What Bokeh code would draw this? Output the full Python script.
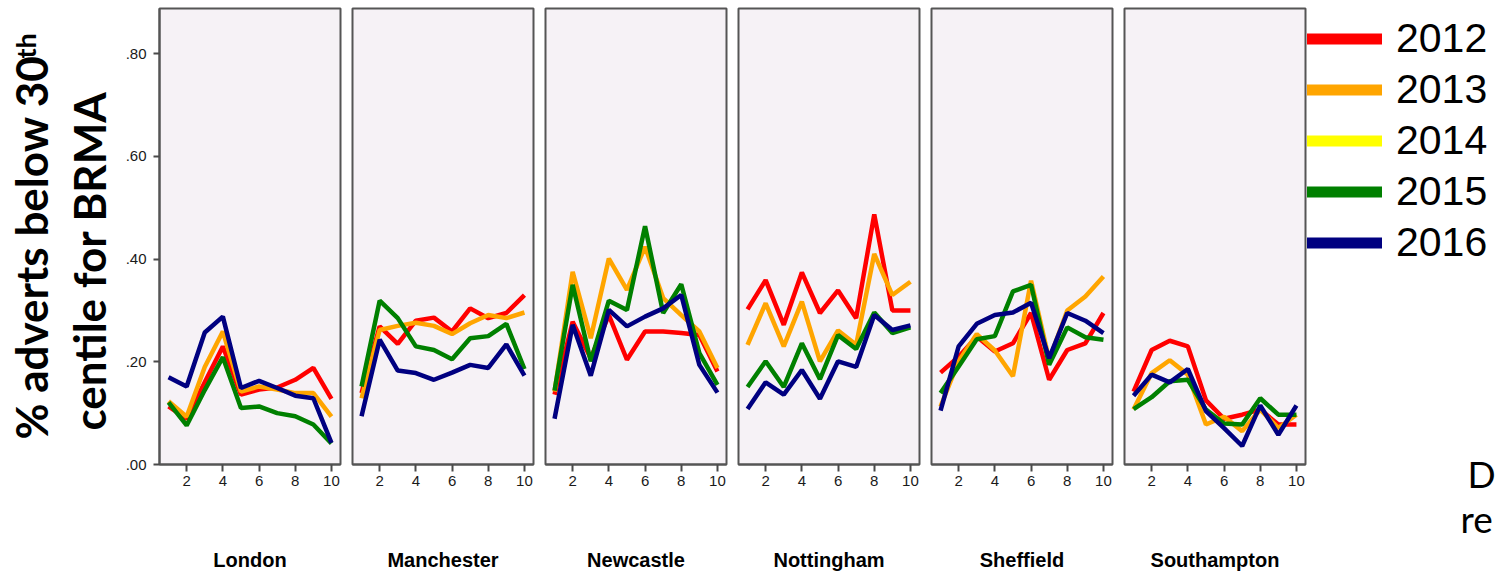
import math

from bokeh.embed import file_html
from bokeh.layouts import row
from bokeh.models import FixedTicker, Label, Legend, LegendItem, Range1d
from bokeh.plotting import figure
from bokeh.resources import INLINE

# ---------------------------------------------------------------- data
months = [1, 2, 3, 4, 5, 6, 7, 8, 9, 10]
years = ["2012", "2013", "2014", "2015", "2016"]
year_colors = ["#FF0000", "#FFA500", "#FFFF00", "#008000", "#000080"]
cities = ["London", "Manchester", "Newcastle", "Nottingham", "Sheffield", "Southampton"]

x_ticks = [2, 4, 6, 8, 10]
y_ticks = [0.0, 0.2, 0.4, 0.6, 0.8]
y_tick_labels = [".00", ".20", ".40", ".60", ".80"]

# share of adverts below the 30th centile, by month index (2014 has no series)
london = {
    "2012": [0.113, 0.089, 0.160, 0.230, 0.136, 0.146, 0.150, 0.165, 0.188, 0.128],
    "2013": [0.123, 0.093, 0.190, 0.259, 0.142, 0.152, 0.146, 0.139, 0.139, 0.093],
    "2015": [0.121, 0.076, 0.145, 0.209, 0.110, 0.113, 0.100, 0.094, 0.078, 0.041],
    "2016": [0.170, 0.152, 0.257, 0.288, 0.149, 0.163, 0.149, 0.134, 0.129, 0.042],
}
manchester = {
    "2012": [0.139, 0.269, 0.235, 0.280, 0.286, 0.259, 0.304, 0.285, 0.295, 0.330],
    "2013": [0.129, 0.262, 0.270, 0.276, 0.270, 0.254, 0.275, 0.291, 0.285, 0.296],
    "2015": [0.152, 0.319, 0.285, 0.230, 0.223, 0.205, 0.246, 0.250, 0.274, 0.186],
    "2016": [0.094, 0.243, 0.183, 0.178, 0.165, 0.179, 0.194, 0.188, 0.234, 0.173],
}
newcastle = {
    "2012": [0.136, 0.278, 0.207, 0.291, 0.204, 0.259, 0.259, 0.256, 0.252, 0.181],
    "2013": [0.142, 0.375, 0.246, 0.401, 0.340, 0.424, 0.324, 0.291, 0.259, 0.188],
    "2015": [0.144, 0.350, 0.201, 0.319, 0.301, 0.464, 0.295, 0.351, 0.217, 0.155],
    "2016": [0.089, 0.272, 0.173, 0.301, 0.269, 0.288, 0.304, 0.330, 0.194, 0.140],
}
nottingham = {
    "2012": [0.302, 0.359, 0.272, 0.374, 0.295, 0.339, 0.285, 0.487, 0.300, 0.300],
    "2013": [0.233, 0.314, 0.230, 0.317, 0.201, 0.261, 0.233, 0.410, 0.330, 0.356],
    "2015": [0.151, 0.201, 0.151, 0.236, 0.166, 0.252, 0.225, 0.296, 0.256, 0.267],
    "2016": [0.108, 0.160, 0.136, 0.184, 0.128, 0.201, 0.190, 0.291, 0.262, 0.271],
}
sheffield = {
    "2012": [0.179, 0.210, 0.249, 0.220, 0.236, 0.295, 0.165, 0.223, 0.236, 0.295],
    "2013": [0.113, 0.201, 0.254, 0.222, 0.172, 0.358, 0.204, 0.300, 0.327, 0.366],
    "2015": [0.139, 0.191, 0.244, 0.250, 0.337, 0.350, 0.194, 0.267, 0.248, 0.243],
    "2016": [0.105, 0.230, 0.274, 0.291, 0.296, 0.315, 0.207, 0.295, 0.280, 0.256],
}
southampton = {
    "2012": [0.142, 0.223, 0.241, 0.230, 0.125, 0.089, 0.097, 0.107, 0.078, 0.078],
    "2013": [0.107, 0.178, 0.203, 0.175, 0.078, 0.093, 0.065, 0.107, 0.071, 0.097],
    "2015": [0.108, 0.131, 0.162, 0.165, 0.107, 0.080, 0.078, 0.129, 0.097, 0.097],
    "2016": [0.134, 0.175, 0.160, 0.186, 0.104, 0.071, 0.036, 0.115, 0.058, 0.115],
}
city_series = [london, manchester, newcastle, nottingham, sheffield, southampton]

# ---------------------------------------------------------------- layout
HEIGHT = 573
FRAME_W, FRAME_H = 181, 456
TOP, BOTTOM = 8, 109
GAP = 6
TITLE_W = 114
AXIS_W = 45
LAST_RIGHT = 2
LEGEND_W = 1496 - TITLE_W - (AXIS_W + FRAME_W + GAP) - 4 * (2 * GAP + FRAME_W) - (GAP + FRAME_W + LAST_RIGHT)
PANEL_BG = "#F6F2F6"
EDGE = "#555555"
TICK_FONT = "Liberation Sans"


def blank_canvas(width):
    """A figure whose frame is the whole canvas, used for free-standing text."""
    c = figure(
        width=width, height=HEIGHT,
        x_range=Range1d(0, width), y_range=Range1d(0, HEIGHT),
        x_axis_location=None, y_axis_location=None,
        min_border_left=0, min_border_right=0, min_border_top=0, min_border_bottom=0,
        frame_align=False,
        output_backend="svg", toolbar_location=None,
    )
    c.outline_line_color = None
    c.grid.visible = False
    c.background_fill_color = "white"
    c.border_fill_color = "white"
    return c


# ---------------------------------------------------------------- y title
# labels are anchored about half a font size off from where their baseline falls
title_canvas = blank_canvas(TITLE_W)
title_style = dict(
    x_units="screen", y_units="screen", angle=math.pi / 2,
    text_font="Lato", text_font_style="bold",
    text_align="left", text_baseline="alphabetic", text_color="black",
)
title_canvas.add_layout(Label(x=52 - 22, y=HEIGHT - 439, text="% adverts below 30",
                              text_font_size="44px", **title_style))
title_canvas.add_layout(Label(x=38 - 13, y=HEIGHT - 58, text="th",
                              text_font_size="27px", **title_style))
title_canvas.add_layout(Label(x=110 - 22, y=HEIGHT - 430, text="centile for BRMA",
                              text_font_size="44px", **title_style))

# ---------------------------------------------------------------- panels
panels = []
for i, (city, series) in enumerate(zip(cities, city_series)):
    first = i == 0
    last = i == len(cities) - 1
    left = AXIS_W if first else GAP
    right = LAST_RIGHT if last else GAP
    p = figure(
        width=left + FRAME_W + right,
        height=TOP + FRAME_H + BOTTOM,
        x_range=Range1d(0.5, 10.5),
        y_range=Range1d(0.0, 0.888),
        y_axis_location="left" if first else None,
        min_border_left=left,
        min_border_right=right,
        min_border_top=TOP,
        min_border_bottom=BOTTOM,
        output_backend="svg",
        toolbar_location=None,
    )
    p.background_fill_color = PANEL_BG
    p.border_fill_color = "white"
    p.outline_line_color = EDGE
    p.outline_line_width = 2
    p.grid.visible = False

    xa = p.xaxis[0]
    xa.ticker = FixedTicker(ticks=x_ticks, minor_ticks=[])
    xa.major_tick_in = 0
    xa.major_tick_out = 7
    xa.major_tick_line_width = 2
    xa.major_tick_line_color = "#4a4a4a"
    xa.minor_tick_out = 0
    xa.axis_line_color = EDGE
    xa.axis_line_width = 2
    xa.major_label_standoff = 4
    xa.major_label_text_font = TICK_FONT
    xa.major_label_text_font_size = "15px"
    xa.major_label_text_color = "#1a1a1a"
    xa.axis_label = city
    xa.axis_label_standoff = 60
    xa.axis_label_text_font = TICK_FONT
    xa.axis_label_text_font_size = "20px"
    xa.axis_label_text_font_style = "bold"
    xa.axis_label_text_color = "black"

    if first:
        ya = p.yaxis[0]
        ya.ticker = FixedTicker(ticks=y_ticks, minor_ticks=[])
        ya.major_label_overrides = {t: lab for t, lab in zip(y_ticks, y_tick_labels)}
        ya.major_tick_in = 0
        ya.major_tick_out = 6
        ya.major_tick_line_width = 2
        ya.major_tick_line_color = "#4a4a4a"
        ya.minor_tick_out = 0
        ya.axis_line_color = EDGE
        ya.axis_line_width = 2
        ya.major_label_standoff = 7
        ya.major_label_text_font = TICK_FONT
        ya.major_label_text_font_size = "15px"
        ya.major_label_text_color = "#1a1a1a"

    for year, color in zip(years, year_colors):
        if year in series:
            p.line(months, series[year], line_color=color, line_width=4.5)

    panels.append(p)

# ---------------------------------------------------------------- legend
legend_canvas = blank_canvas(LEGEND_W)
legend_items = []
for year, color in zip(years, year_colors):
    # legend-only swatch renderer; its points sit outside the visible range
    swatch = legend_canvas.line(x=[-20, -10], y=[-20, -20], line_color=color, line_width=11)
    legend_items.append(LegendItem(label=year, renderers=[swatch]))

legend = Legend(
    items=legend_items,
    location=(-2, 307),
    orientation="vertical",
    padding=6,
    spacing=4,
    margin=0,
    glyph_width=77,
    glyph_height=47,
    label_height=47,
    label_standoff=14,
    label_text_font=TICK_FONT,
    label_text_font_size="41px",
    label_text_color="black",
    background_fill_color="white",
    background_fill_alpha=1.0,
    border_line_color=None,
)
legend_canvas.add_layout(legend)

note_style = dict(x_units="screen", y_units="screen", text_font="Lato",
                  text_font_size="37px", text_align="left",
                  text_baseline="alphabetic", text_color="black")
canvas_left = 1496 - LEGEND_W
legend_canvas.add_layout(Label(x=1467 - canvas_left, y=HEIGHT - 473, text="D", **note_style))
legend_canvas.add_layout(Label(x=1460 - canvas_left, y=HEIGHT - 518, text="re", **note_style))

layout = row(title_canvas, *panels, legend_canvas, spacing=0)

with open("out.html", "w") as f:
    f.write(file_html(layout, INLINE))
